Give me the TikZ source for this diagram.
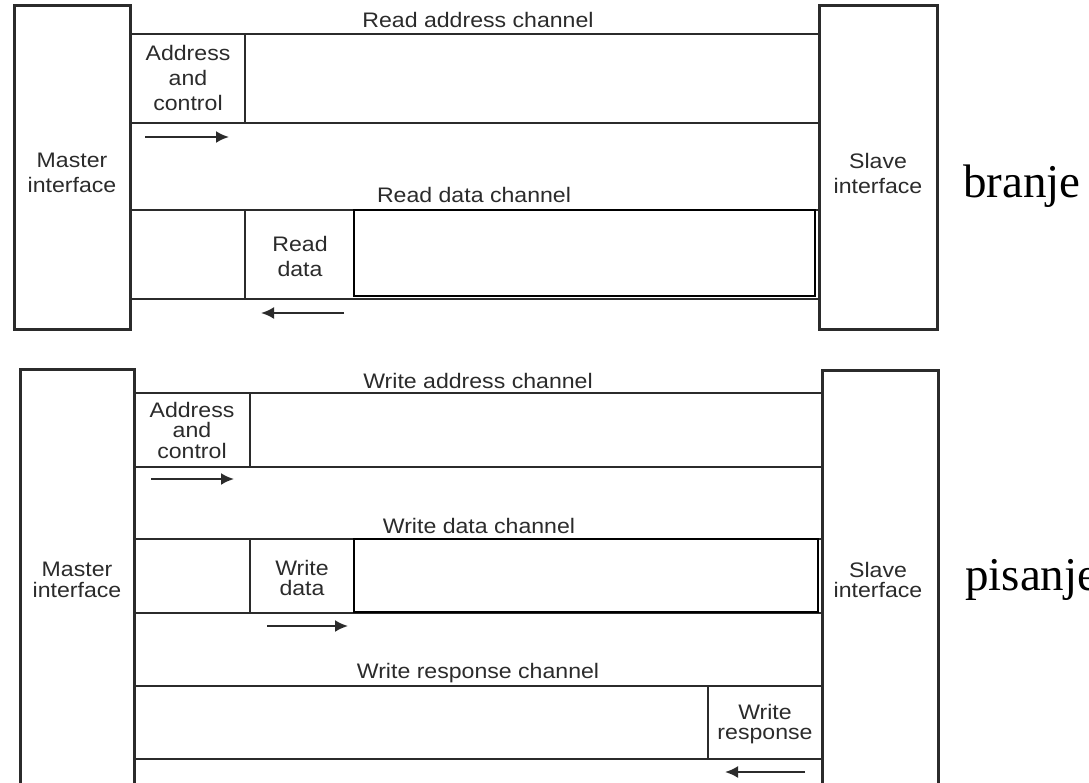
\documentclass[tikz,border=0pt]{standalone}
\usepackage{fontspec}
\setmainfont{Liberation Serif}
\newfontfamily\labfont[FakeStretch=1.1]{Liberation Sans}
\newfontfamily\bigfont{Liberation Serif}
\usetikzlibrary{arrows.meta}
\definecolor{ink}{HTML}{2B2B2B}
\tikzset{
  ifbox/.style={draw=ink, line width=3pt},
  chan/.style={draw=ink, line width=2.6pt},
  thinchan/.style={draw=ink, line width=2pt},
  inner/.style={draw=black, line width=2pt},
  labA/.style={font=\labfont\fontsize{21}{25}\selectfont, text=ink, align=center, inner sep=0pt},
  labB/.style={font=\labfont\fontsize{21}{20.5}\selectfont, text=ink, align=center, inner sep=0pt},
  big/.style={font=\bigfont\fontsize{47}{50}\selectfont, text=black, inner sep=0pt, anchor=base west},
  flow/.style={draw=ink, line width=2.2pt, -{Latex[length=13pt,width=12pt]}}
}
\begin{document}
\begin{tikzpicture}[x=1pt,y=-1pt]
\useasboundingbox (0,0) rectangle (1089,782);
\clip (0,0) rectangle (1089,782);
\fill[white] (0,0) rectangle (1089,782);

% ---------------- Read (branje) ----------------
\draw[ifbox] (14,5) rectangle (130,329);
\draw[ifbox] (819,5) rectangle (937,329);
\node[labA] (mR) at (72,173) {Master\\interface};
\node[labA] (sR) at (878,173) {Slave\\interface};

\draw[thinchan] (131,34) -- (819,34);
\draw[chan] (131,123) -- (819,123);
\draw[chan] (131,210) -- (819,210);
\draw[chan] (131,299) -- (819,299);
\draw[chan] (245,34) -- (245,123);
\draw[chan] (245,210) -- (245,299);
\draw[inner] (354,210) rectangle (815,296);

\node[labA, anchor=base] (rac) at (478,27) {Read address channel};
\node[labA, anchor=base] (rdc) at (474,202) {Read data channel};
\node[labA] (rad) at (188,78) {Address\\and\\control};
\node[labA] (rd) at (300,256) {Read\\data};

\coordinate (a1s) at (145,137); \coordinate (a1e) at (229,137);
\draw[flow] (a1s) -- (a1e);
\coordinate (a2s) at (344,313); \coordinate (a2e) at (261,313);
\draw[flow] (a2s) -- (a2e);

\node[big] (br) at (963,197) {branje};

% ---------------- Write (pisanje) ----------------
\draw[ifbox] (20,369) rectangle (134,820);
\draw[ifbox] (822,370) rectangle (938,820);
\node[labB] (mW) at (77,580) {Master\\interface};
\node[labB] (sW) at (878,580) {Slave\\interface};

\draw[chan] (134,393) -- (822,393);
\draw[chan] (134,467) -- (822,467);
\draw[chan] (134,539) -- (822,539);
\draw[chan] (134,613) -- (822,613);
\draw[chan] (134,686) -- (822,686);
\draw[chan] (134,759) -- (822,759);
\draw[chan] (250,393) -- (250,467);
\draw[chan] (250,539) -- (250,613);
\draw[thinchan] (708,686) -- (708,759);
\draw[inner] (354,539) rectangle (818,612);

\node[labB, anchor=base] (wac) at (478,388) {Write address channel};
\node[labB, anchor=base] (wdc) at (479,533) {Write data channel};
\node[labB, anchor=base] (wrc) at (478,678) {Write response channel};
\node[labB] (wad) at (192,430) {Address\\and\\control};
\node[labB] (wd) at (302,578) {Write\\data};
\node[labB] (wr) at (765,724) {Write\\response};

\coordinate (b1s) at (151,479); \coordinate (b1e) at (234,479);
\draw[flow] (b1s) -- (b1e);
\coordinate (b2s) at (267,626); \coordinate (b2e) at (348,626);
\draw[flow] (b2s) -- (b2e);
\coordinate (b3s) at (805,772); \coordinate (b3e) at (725,772);
\draw[flow] (b3s) -- (b3e);

\node[big] (pi) at (965,590) {pisanje};
\end{tikzpicture}
\end{document}
